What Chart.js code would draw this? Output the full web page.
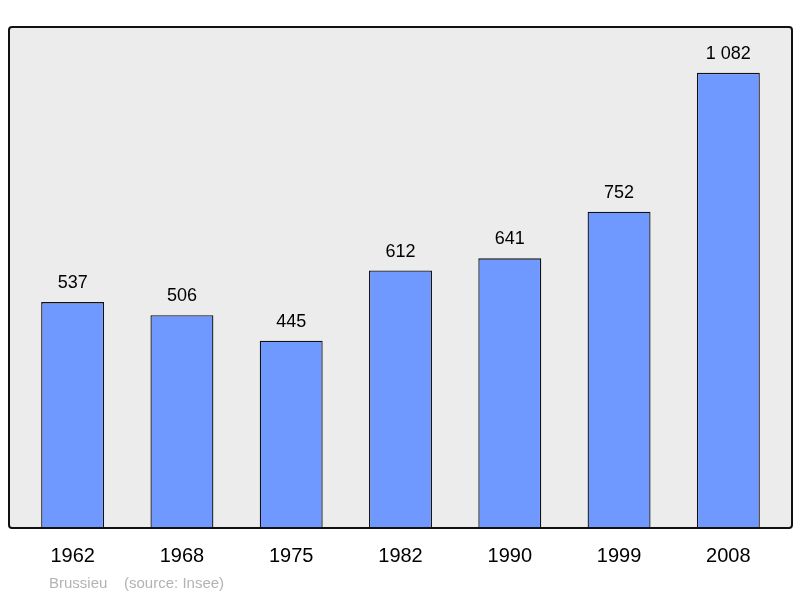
<!DOCTYPE html>
<html><head><meta charset="utf-8">
<script src="https://cdn.jsdelivr.net/npm/chart.js@4/dist/chart.umd.min.js"></script>
<style>html,body{margin:0;padding:0;background:#fff}#c{display:block}</style>
</head><body>
<div style="width:800px;height:598px"><canvas id="c"></canvas></div>
<script>
const categories = ["1962","1968","1975","1982","1990","1999","2008"];
const population = [537,506,445,612,641,752,1082];
const footerText = "Brussieu    (source: Insee)";
const fmt = v => String(v).replace(/\B(?=(\d{3})+(?!\d))/g, " ");

const deco = {
  id: 'deco',
  beforeDraw(chart) {
    const {ctx, chartArea: a} = chart;
    ctx.save();
    const x = a.left - 9, y = a.top, w = a.right - a.left + 18, h = a.bottom - a.top;
    ctx.fillStyle = '#ececec';
    ctx.beginPath(); ctx.roundRect(x, y, w, h, 3); ctx.fill();
    ctx.restore();
  },
  afterDatasetsDraw(chart) {
    const {ctx, chartArea: a, scales} = chart;
    ctx.save();
    const x = a.left - 9, y = a.top, w = a.right - a.left + 18, h = a.bottom - a.top;
    ctx.strokeStyle = '#111'; ctx.lineWidth = 2;
    ctx.beginPath(); ctx.roundRect(x, y, w, h, 3); ctx.stroke();
    const meta = chart.getDatasetMeta(0);
    ctx.fillStyle = '#000'; ctx.textAlign = 'center';
    ctx.font = '18px "Liberation Sans", Arial, sans-serif';
    ctx.textBaseline = 'bottom';
    meta.data.forEach((bar, i) => ctx.fillText(fmt(population[i]), bar.x, bar.y - 10));
    ctx.font = '20px "Liberation Sans", Arial, sans-serif';
    ctx.textBaseline = 'middle';
    categories.forEach((c, i) => ctx.fillText(c, scales.x.getPixelForValue(i), 556));
    ctx.fillStyle = '#b3b3b3'; ctx.textAlign = 'left';
    ctx.font = '15px "Liberation Sans", Arial, sans-serif';
    ctx.fillText(footerText, 49, 584);
    ctx.restore();
  }
};

new Chart(document.getElementById('c'), {
  type: 'bar',
  data: { labels: categories, datasets: [{ data: population, backgroundColor: '#7099ff', borderColor: '#111', borderWidth: 1.3, categoryPercentage: 1, barPercentage: 0.576 }] },
  options: {
    responsive: true, maintainAspectRatio: false, animation: false,
    layout: { padding: { top: 27, bottom: 70, left: 18, right: 17 } },
    plugins: { legend: { display: false }, tooltip: { enabled: false } },
    scales: {
      x: { display: false },
      y: { display: false, min: 0, max: 1191 }
    }
  },
  plugins: [deco]
});
</script>
</body></html>
